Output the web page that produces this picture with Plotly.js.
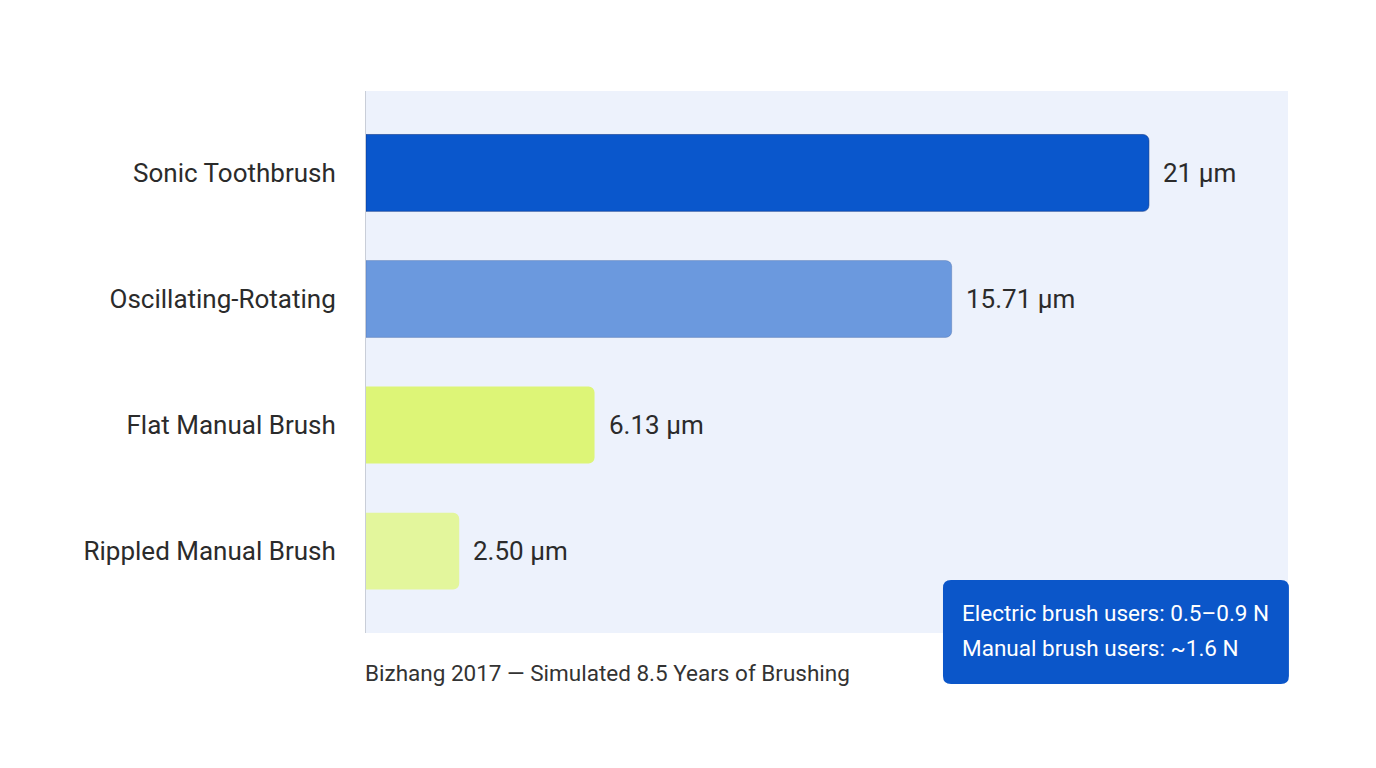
<!DOCTYPE html>
<html>
<head>
<meta charset="utf-8">
<script src="https://cdn.plot.ly/plotly-3.0.1.min.js"></script>
<style>
  html, body { margin: 0; padding: 0; background: #ffffff; }
  #grafico { width: 1376px; height: 768px; }
</style>
</head>
<body>
<div id="grafico"></div>
<script>
/* dados: desgaste de dentina após 8,5 anos simulados */
const escovas = ["Sonic Toothbrush", "Oscillating-Rotating", "Flat Manual Brush", "Rippled Manual Brush"];
const desgaste = [21, 15.71, 6.13, 2.50];
const rotulos = ["21 µm", "15.71 µm", "6.13 µm", "2.50 µm"];
const cores = ["#0a57cc", "#6b99de", "#ddf577", "#e3f69c"];
const bordas = ["rgba(10,50,130,0.55)", "rgba(60,90,150,0.3)", "rgba(0,0,0,0)", "rgba(0,0,0,0)"];
const fonte = "Bizhang 2017 — Simulated 8.5 Years of Brushing";
const notas = ["Electric brush users: 0.5–0.9 N", "Manual brush users: ~1.6 N"];

let trace = {
    type: "bar",
    orientation: "h",
    y: escovas,
    x: desgaste,
    width: 0.61,
    marker: {
        color: cores,
        line: { color: bordas, width: 1 }
    },
    hoverinfo: "skip"
};

// rótulos de valor à direita das barras
let anotacoes = escovas.map((e, i) => ({
    x: desgaste[i],
    y: e,
    xref: "x",
    yref: "y",
    text: rotulos[i],
    showarrow: false,
    xanchor: "left",
    xshift: 12,
    font: { size: 26, color: "#2b2b2b" }
}));

anotacoes.push({
    x: 0, y: -0.074, xref: "paper", yref: "paper",
    text: fonte, showarrow: false,
    xanchor: "left", yanchor: "middle", xshift: -3,
    font: { size: 22.5, color: "#333333" }
});

notas.forEach((n, i) => {
    anotacoes.push({
        x: 0.6464, y: [0.037, -0.028][i], xref: "paper", yref: "paper",
        text: n, showarrow: false,
        xanchor: "left", yanchor: "middle", xshift: -2,
        font: { size: 22.5, color: "#ffffff" }
    });
});

// caixa azul arredondada da nota
let bx0 = 0.6258, bx1 = 1.001, by0 = -0.0941, by1 = 0.0978;
let rx = 0.0087, ry = 0.0148;
let caminho =
    "M " + (bx0 + rx) + "," + by1 +
    " L " + (bx1 - rx) + "," + by1 +
    " Q " + bx1 + "," + by1 + " " + bx1 + "," + (by1 - ry) +
    " L " + bx1 + "," + (by0 + ry) +
    " Q " + bx1 + "," + by0 + " " + (bx1 - rx) + "," + by0 +
    " L " + (bx0 + rx) + "," + by0 +
    " Q " + bx0 + "," + by0 + " " + bx0 + "," + (by0 + ry) +
    " L " + bx0 + "," + (by1 - ry) +
    " Q " + bx0 + "," + by1 + " " + (bx0 + rx) + "," + by1 + " Z";

let layout = {
    width: 1376,
    height: 768,
    paper_bgcolor: "#ffffff",
    plot_bgcolor: "#edf2fc",
    font: { family: "Roboto, 'Noto Sans', sans-serif", color: "#2b2b2b" },
    margin: { l: 366, r: 88, t: 91, b: 135 },
    showlegend: false,
    barcornerradius: 6,
    xaxis: {
        range: [0, 24.73],
        showgrid: false,
        zeroline: false,
        showticklabels: false,
        showline: false,
        fixedrange: true
    },
    yaxis: {
        autorange: false,
        range: [3.65, -0.65],
        showgrid: false,
        zeroline: false,
        showline: true,
        linecolor: "#c9ced8",
        linewidth: 1,
        ticks: "",
        ticklabelstandoff: 24,
        tickfont: { size: 26, color: "#2b2b2b" },
        fixedrange: true
    },
    shapes: [{
        type: "path",
        xref: "paper",
        yref: "paper",
        path: caminho,
        fillcolor: "#0b56c9",
        line: { width: 0 },
        layer: "above"
    }],
    annotations: anotacoes
};

Plotly.newPlot("grafico", [trace], layout, { displayModeBar: false, staticPlot: true });
</script>
</body>
</html>
